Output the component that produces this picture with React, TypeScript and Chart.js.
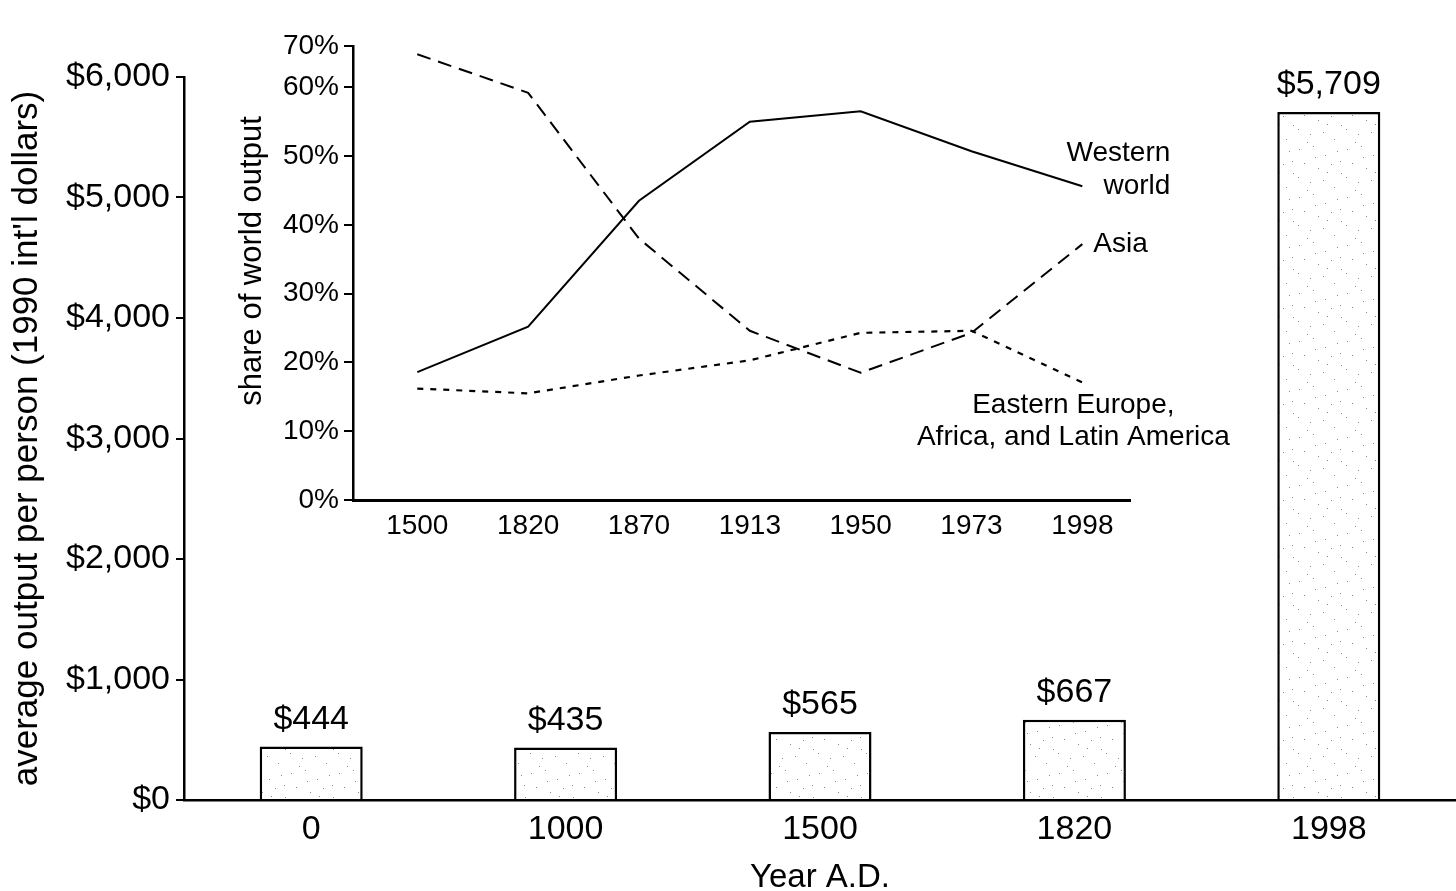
import React, { useEffect, useRef } from 'react';
import { Chart, registerables } from 'chart.js';

Chart.register(...registerables);

// ---- Main bar chart data ----
const barYears = ['0', '1000', '1500', '1820', '1998'];
const barValues = [444, 435, 565, 667, 5709];
const barYMax = 6000;
const barYStep = 1000;

// ---- Inset line chart data ----
const insetYears = ['1500', '1820', '1870', '1913', '1950', '1973', '1998'];
const westernShare = [18.6, 25.2, 43.5, 55.0, 56.5, 50.7, 45.6];
const asiaShare = [64.8, 59.2, 38.0, 24.6, 18.5, 24.3, 37.2];
const otherShare = [16.2, 15.5, 18.1, 20.3, 24.3, 24.6, 17.1];
const insetTickValues = [0, 10, 20, 30, 40, 50, 60, 66];
const insetTickLabels = ['0%', '10%', '20%', '30%', '40%', '50%', '60%', '70%'];

const FONT = '"Liberation Sans", Arial, Helvetica, sans-serif';
const W = 1456;
const H = 891;

// fixed stipple dot offsets for the bar fill pattern
const stippleDots = [
  [3, 5], [17, 2], [29, 11], [41, 7], [8, 19], [22, 24], [35, 20], [45, 29],
  [2, 33], [14, 38], [27, 36], [38, 43], [11, 46], [31, 28], [19, 13], [44, 17],
];

function makePattern(): CanvasPattern | string {
  const c = document.createElement('canvas');
  c.width = 48;
  c.height = 48;
  const g = c.getContext('2d');
  if (!g) return '#fff';
  g.fillStyle = '#ffffff';
  g.fillRect(0, 0, 48, 48);
  g.fillStyle = '#8a8a8a';
  stippleDots.forEach(([x, y]) => g.fillRect(x, y, 1, 1));
  const p = g.createPattern(c, 'repeat');
  return p || '#fff';
}

const barLabelPlugin = {
  id: 'barLabels',
  afterDatasetsDraw(chart: any) {
    const { ctx } = chart;
    const meta = chart.getDatasetMeta(0);
    ctx.save();
    ctx.fillStyle = '#000';
    ctx.font = `34px ${FONT}`;
    ctx.textAlign = 'center';
    ctx.textBaseline = 'bottom';
    meta.data.forEach((bar: any, i: number) => {
      const v = chart.data.datasets[0].data[i] as number;
      ctx.fillText('$' + v.toLocaleString('en-US'), bar.x, bar.y - 10);
    });
    ctx.restore();
  },
};

const insetLabelPlugin = {
  id: 'insetLabels',
  afterDatasetsDraw(chart: any) {
    const { ctx, chartArea } = chart;
    const xs = chart.scales.x;
    const ys = chart.scales.y;
    const last = insetYears.length - 1;
    const lx = xs.getPixelForValue(last);
    ctx.save();
    ctx.fillStyle = '#000';
    ctx.font = `28px ${FONT}`;
    ctx.textBaseline = 'middle';
    // Western world
    const wy = ys.getPixelForValue(westernShare[last]);
    ctx.textAlign = 'right';
    ctx.fillText('Western', lx + 88, wy - 33);
    ctx.fillText('world', lx + 88, wy);
    // Asia
    const ay = ys.getPixelForValue(asiaShare[last]);
    ctx.textAlign = 'left';
    ctx.fillText('Asia', lx + 11, ay);
    // Eastern Europe, Africa, Latin America
    const oy = ys.getPixelForValue(otherShare[last]);
    ctx.textAlign = 'center';
    ctx.fillText('Eastern Europe,', lx - 9, oy + 23);
    ctx.fillText('Africa, and Latin America', lx - 9, oy + 55);
    // y-axis title
    ctx.translate(chartArea.left - 101, (chartArea.top + chartArea.bottom) / 2 - 12);
    ctx.rotate(-Math.PI / 2);
    ctx.font = `31px ${FONT}`;
    ctx.textAlign = 'center';
    ctx.fillText('share of world output', 0, 0);
    ctx.restore();
  },
};

export default function App() {
  const mainRef = useRef<HTMLCanvasElement>(null);
  const insetRef = useRef<HTMLCanvasElement>(null);

  useEffect(() => {
    if (!mainRef.current || !insetRef.current) return;
    const mainFont = { family: FONT, size: 34 };
    const main = new Chart(mainRef.current, {
      type: 'bar',
      data: {
        labels: barYears,
        datasets: [
          {
            data: barValues,
            backgroundColor: makePattern() as any,
            borderColor: '#000',
            borderWidth: 2.5,
            barPercentage: 0.405,
            categoryPercentage: 1,
          },
        ],
      },
      options: {
        responsive: false,
        animation: false,
        layout: { padding: { top: 77, left: 0, right: 0, bottom: 0 } },
        plugins: { legend: { display: false }, tooltip: { enabled: false } },
        scales: {
          x: {
            grid: { display: false, drawTicks: false },
            border: { display: true, color: '#000', width: 2.5 },
            ticks: { color: '#000', font: mainFont, padding: 9 },
            title: {
              display: true,
              text: 'Year A.D.',
              color: '#000',
              font: { family: FONT, size: 33, lineHeight: 1 },
              padding: { top: 0, bottom: -3 },
            },
            afterFit: (s: any) => {
              s.height = 91;
            },
          },
          y: {
            min: 0,
            max: barYMax,
            ticks: {
              stepSize: barYStep,
              color: '#000',
              font: mainFont,
              padding: 6,
              callback: (v: any) => '$' + Number(v).toLocaleString('en-US'),
            },
            grid: { drawOnChartArea: false, drawTicks: true, tickLength: 8, color: '#000', lineWidth: 2 },
            border: { display: true, color: '#000', width: 2.5 },
            title: {
              display: true,
              text: "average output per person (1990 int'l dollars)",
              color: '#000',
              font: { family: FONT, size: 35, lineHeight: 1 },
              padding: { top: 10, bottom: 0 },
            },
            afterFit: (s: any) => {
              s.width = 184;
            },
          },
        },
      },
      plugins: [barLabelPlugin],
    });

    const insetFont = { family: FONT, size: 28 };
    const toPts = (arr: number[]) => arr.map((v, i) => ({ x: i, y: v }));
    const inset = new Chart(insetRef.current, {
      type: 'line',
      data: {
        datasets: [
          {
            label: 'Western world',
            data: toPts(westernShare),
            borderColor: '#000',
            borderWidth: 2,
            pointRadius: 0,
            tension: 0,
          },
          {
            label: 'Asia',
            data: toPts(asiaShare),
            borderColor: '#000',
            borderWidth: 2,
            borderDash: [14, 8],
            pointRadius: 0,
            tension: 0,
          },
          {
            label: 'Eastern Europe, Africa, and Latin America',
            data: toPts(otherShare),
            borderColor: '#000',
            borderWidth: 2.2,
            borderDash: [6, 7],
            pointRadius: 0,
            tension: 0,
          },
        ],
      },
      options: {
        responsive: false,
        animation: false,
        layout: { padding: { top: 46, left: 220, right: W - 1130, bottom: H - 500 - 60 } },
        plugins: { legend: { display: false }, tooltip: { enabled: false } },
        scales: {
          x: {
            type: 'linear',
            min: -0.58,
            max: 6.43,
            grid: { display: false, drawTicks: false },
            border: { display: true, color: '#000', width: 3 },
            ticks: {
              color: '#000',
              font: insetFont,
              padding: 9,
              callback: (v: any) => insetYears[Math.round(Number(v))] ?? '',
            },
            afterBuildTicks: (s: any) => {
              s.ticks = insetYears.map((_, i) => ({ value: i }));
            },
            afterFit: (s: any) => {
              s.height = 60;
            },
          },
          y: {
            min: 0,
            max: 66,
            ticks: {
              color: '#000',
              font: insetFont,
              padding: 5,
              callback: (v: any) => {
                const idx = insetTickValues.indexOf(Number(v));
                return idx >= 0 ? insetTickLabels[idx] : '';
              },
            },
            afterBuildTicks: (s: any) => {
              s.ticks = insetTickValues.map((v) => ({ value: v }));
            },
            grid: { drawOnChartArea: false, drawTicks: true, tickLength: 9, color: '#000', lineWidth: 2 },
            border: { display: true, color: '#000', width: 2.5 },
            afterFit: (s: any) => {
              s.width = 1353 - 1220;
            },
          },
        },
      },
      plugins: [insetLabelPlugin],
    });

    return () => {
      main.destroy();
      inset.destroy();
    };
  }, []);

  return (
    <div style={{ position: 'fixed', left: 0, top: 0, width: W, height: H, background: '#fff' }}>
      <canvas ref={mainRef} width={W} height={H} style={{ position: 'absolute', left: 0, top: 0 }} />
      <canvas
        ref={insetRef}
        width={W}
        height={H}
        style={{ position: 'absolute', left: 0, top: 0, pointerEvents: 'none' }}
      />
    </div>
  );
}
